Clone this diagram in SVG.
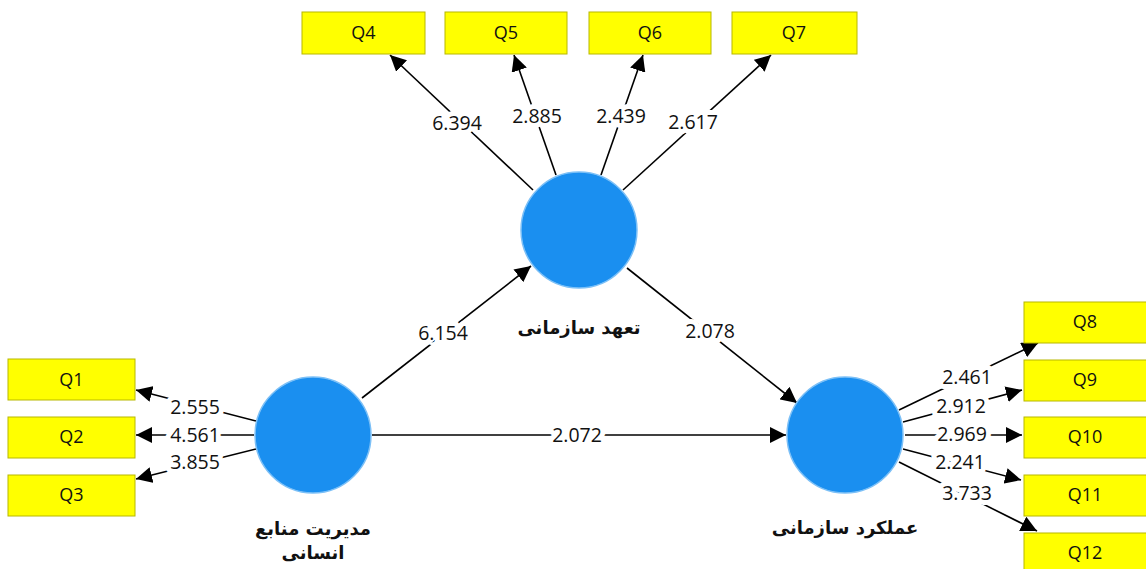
<svg xmlns="http://www.w3.org/2000/svg" width="1146" height="569" viewBox="0 0 1146 569">
<style>
.box{fill:#ffff00;stroke:#b8b800;stroke-width:1}
.bt{font-family:"Open Sans","Noto Sans",sans-serif;font-size:18px;fill:#111;text-anchor:middle;dominant-baseline:central}
.lv{fill:#1a8ff0;stroke:#7cc0f7;stroke-width:1.5}
.lt{font-family:"DejaVu Sans",sans-serif;font-weight:bold;font-size:18px;fill:#111;text-anchor:middle;direction:rtl}
.c{stroke:#000;stroke-width:1.6;fill:none;marker-end:url(#ah)}
.n{font-family:"Open Sans","Noto Sans",sans-serif;font-size:19.5px;fill:#111;text-anchor:middle;dominant-baseline:central;stroke:#fff;stroke-width:10;paint-order:stroke;stroke-linejoin:round}
</style>
<defs>
<marker id="ah" markerUnits="userSpaceOnUse" markerWidth="18" markerHeight="16" refX="16" refY="8" orient="auto">
<path d="M0,0 L16,8 L0,16 Z" fill="#000"/>
</marker>
</defs>
<rect width="1146" height="569" fill="#fff"/>
<g id="connectors">
<line class="c" x1="533" y1="190" x2="390" y2="55"/>
<line class="c" x1="556" y1="175" x2="514" y2="55"/>
<line class="c" x1="601" y1="175" x2="643" y2="55"/>
<line class="c" x1="623" y1="190" x2="771" y2="55"/>
<line class="c" x1="256" y1="421" x2="136" y2="390"/>
<line class="c" x1="254" y1="435" x2="136" y2="435"/>
<line class="c" x1="256" y1="449" x2="136" y2="479"/>
<line class="c" x1="899" y1="410" x2="1038" y2="343"/>
<line class="c" x1="903" y1="422" x2="1022" y2="390"/>
<line class="c" x1="905" y1="435" x2="1022" y2="435"/>
<line class="c" x1="903" y1="449" x2="1021" y2="480"/>
<line class="c" x1="899" y1="462" x2="1037" y2="531"/>
<line class="c" x1="362" y1="398" x2="531" y2="266"/>
<line class="c" x1="627" y1="268" x2="797" y2="403"/>
<line class="c" x1="372" y1="435" x2="786" y2="435"/>
<text class="n" x="457" y="122">6.394</text>
<text class="n" x="537" y="115">2.885</text>
<text class="n" x="621" y="115">2.439</text>
<text class="n" x="693" y="121">2.617</text>
<text class="n" x="195" y="406">2.555</text>
<text class="n" x="195" y="434">4.561</text>
<text class="n" x="195" y="461">3.855</text>
<text class="n" x="967" y="376">2.461</text>
<text class="n" x="961" y="405">2.912</text>
<text class="n" x="962" y="433">2.969</text>
<text class="n" x="960" y="461">2.241</text>
<text class="n" x="967" y="492">3.733</text>
<text class="n" x="443" y="332">6.154</text>
<text class="n" x="710" y="330">2.078</text>
<text class="n" x="577" y="434">2.072</text>
</g>
<g id="Q4"><rect class="box" x="302" y="12" width="123" height="42"/><text class="bt" x="363.5" y="32">Q4</text></g>
<g id="Q5"><rect class="box" x="445" y="12" width="122" height="42"/><text class="bt" x="506" y="32">Q5</text></g>
<g id="Q6"><rect class="box" x="589" y="12" width="122" height="42"/><text class="bt" x="650" y="32">Q6</text></g>
<g id="Q7"><rect class="box" x="732" y="12" width="125" height="42"/><text class="bt" x="794" y="32">Q7</text></g>
<g id="Q1"><rect class="box" x="8" y="359" width="127" height="41"/><text class="bt" x="71.5" y="379">Q1</text></g>
<g id="Q2"><rect class="box" x="8" y="417" width="127" height="41"/><text class="bt" x="71.5" y="436">Q2</text></g>
<g id="Q3"><rect class="box" x="8" y="475" width="127" height="41"/><text class="bt" x="71.5" y="494">Q3</text></g>
<g id="Q8"><rect class="box" x="1024" y="302" width="123" height="41"/><text class="bt" x="1085" y="321">Q8</text></g>
<g id="Q9"><rect class="box" x="1024" y="360" width="123" height="41"/><text class="bt" x="1085" y="379">Q9</text></g>
<g id="Q10"><rect class="box" x="1024" y="417" width="123" height="41"/><text class="bt" x="1085" y="436">Q10</text></g>
<g id="Q11"><rect class="box" x="1024" y="475" width="123" height="41"/><text class="bt" x="1085" y="494">Q11</text></g>
<g id="Q12"><rect class="box" x="1024" y="533" width="123" height="41"/><text class="bt" x="1085" y="552">Q12</text></g>
<g id="commitment"><circle class="lv" cx="579" cy="230" r="58"/><text class="lt" x="579" y="334">تعهد سازمانی</text></g>
<g id="hrm"><circle class="lv" cx="313" cy="435" r="58"/><text class="lt" x="313" y="535">مدیریت منابع</text><text class="lt" x="313" y="559">انسانی</text></g>
<g id="performance"><circle class="lv" cx="845" cy="435" r="58"/><text class="lt" x="845" y="534">عملکرد سازمانی</text></g>
</svg>
